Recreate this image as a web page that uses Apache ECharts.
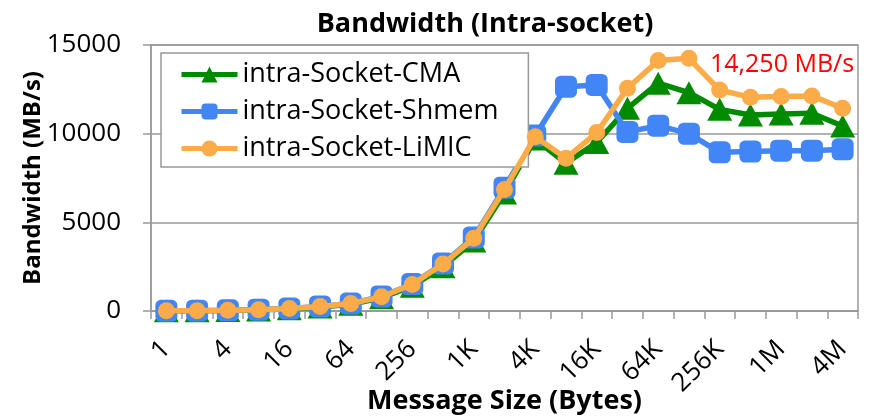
<!DOCTYPE html>
<html><head><meta charset="utf-8">
<script src="https://cdn.jsdelivr.net/npm/echarts@6/dist/echarts.min.js"></script>
<style>html,body{margin:0;padding:0;background:#fff}#c{width:877px;height:418px}</style>
</head><body><div id="c"></div>
<script>
const categories = ['1','2','4','8','16','32','64','128','256','512','1K','2K','4K','8K','16K','32K','64K','128K','256K','512K','1M','2M','4M'];
const cma   = [8,16,32,60,120,220,380,750,1400,2500,3950,6650,9700,8330,9500,11430,12850,12310,11370,11050,11110,11150,10430];
const shmem = [10,20,40,75,140,250,420,820,1520,2680,4150,6950,9900,12650,12750,10100,10450,10000,8950,8990,9040,9040,9120];
const limic = [10,20,40,75,140,250,420,800,1500,2650,4100,6850,9830,8610,10060,12560,14120,14250,12460,12050,12090,12130,11430];
const yTicks = [0,5000,10000,15000];
const font = 'Open Sans';
const chart = echarts.init(document.getElementById('c'));
chart.setOption({
  animation:false,
  title:{text:'Bandwidth (Intra-socket)',left:480,textAlign:'center',top:6,
    textStyle:{fontFamily:font,fontSize:27,fontWeight:'bold',color:'#000'}},
  legend:{orient:'vertical',left:161,top:53,itemWidth:56,itemHeight:20,itemGap:10,
    backgroundColor:'#fff',borderColor:'#999',borderWidth:1.5,padding:[8,30,5,18],
    lineStyle:{width:5},
    textStyle:{fontFamily:font,fontSize:27,color:'#000'},
    data:['intra-Socket-CMA','intra-Socket-Shmem','intra-Socket-LiMIC']},
  grid:{left:151,right:19,top:45,bottom:107,outerBoundsMode:'none',containLabel:false,show:true,borderColor:'#999',borderWidth:1.5},
  xAxis:{type:'category',data:categories,boundaryGap:true,
    name:'Message Size (Bytes)',nameLocation:'middle',nameGap:77,nameMoveOverlap:false,
    nameTextStyle:{fontFamily:font,fontSize:27,fontWeight:'bold',color:'#000'},
    axisLine:{lineStyle:{color:'#999',width:1.5}},
    axisTick:{show:true,interval:0,length:8,lineStyle:{color:'#999',width:1.5}},
    axisLabel:{interval:1,rotate:45,margin:34,fontFamily:font,fontSize:26,color:'#000'}},
  yAxis:{type:'value',min:0,max:15000,interval:5000,
    name:'Bandwidth (MB/s)',nameLocation:'middle',nameGap:106,nameMoveOverlap:false,
    nameTextStyle:{fontFamily:font,fontSize:24,fontWeight:'bold',color:'#000'},
    axisLine:{show:true,lineStyle:{color:'#999',width:1.5}},
    axisTick:{show:true,length:8,lineStyle:{color:'#999',width:1.5}},
    axisLabel:{margin:30,fontFamily:font,fontSize:26,color:'#000',
      formatter:v=>yTicks.includes(v)?String(v):''},
    splitLine:{lineStyle:{color:'#999',width:1.5}}},
  graphic:[{type:'text',left:710,top:52,style:{text:'14,250 MB/s',fill:'#ff0000',font:'25px "Open Sans"'}}],
  series:[
    {name:'intra-Socket-CMA',type:'line',data:cma,symbol:'triangle',symbolSize:[25,23],showAllSymbol:true,
      lineStyle:{color:'#008a00',width:5.5},itemStyle:{color:'#008a00'},z:2},
    {name:'intra-Socket-Shmem',type:'line',data:shmem,symbol:'roundRect',symbolSize:22,showAllSymbol:true,
      lineStyle:{color:'#4285f4',width:5.5},itemStyle:{color:'#4285f4'},z:3},
    {name:'intra-Socket-LiMIC',type:'line',data:limic,symbol:'circle',symbolSize:17,showAllSymbol:true,
      lineStyle:{color:'#fbac48',width:5.5},itemStyle:{color:'#fbac48'},z:4}
  ]
});
</script></body></html>
